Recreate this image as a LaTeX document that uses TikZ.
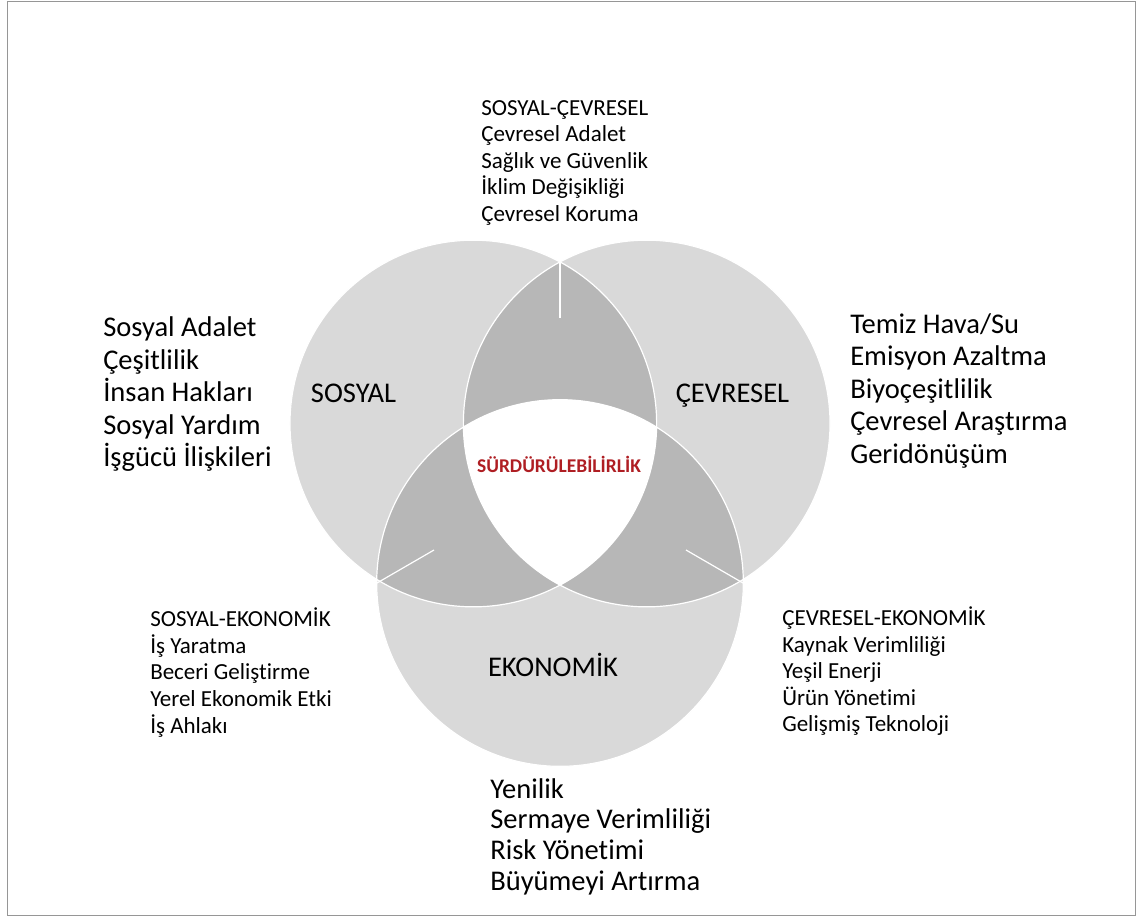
\documentclass[tikz,border=0pt]{standalone}
\usepackage{fontspec}
\setmainfont{Carlito}[Ligatures=NoCommon]
\usepackage{tikz}
\definecolor{vennlight}{RGB}{217,217,217}
\definecolor{venndark}{RGB}{183,183,183}
\definecolor{vennred}{RGB}{175,30,35}
\definecolor{framegray}{RGB}{150,150,150}
\newcommand{\rad}{137.5pt}

\begin{document}
\begin{tikzpicture}[x=0.75pt,y=-0.75pt,
	big/.style={font=\fontsize{21.4pt}{24.4pt}\selectfont, inner sep=0pt, anchor=base west, align=left},
	small/.style={font=\fontsize{17.25pt}{19.9pt}\selectfont, inner sep=0pt, anchor=base west, align=left},
	lbl/.style={font=\fontsize{21.4pt}{24pt}\selectfont, inner sep=0pt, anchor=base}]
	\useasboundingbox (0,0) rectangle (1137,918);
	\draw[framegray, line width=1.2pt] (7.5,1.5) rectangle (1135.5,915.5);
	% circles
	\coordinate (soc) at (473.3,423.5);
	\coordinate (env) at (646.7,423.5);
	\coordinate (eco) at (560,583);
	\fill[vennlight] (soc) circle[radius=\rad] (env) circle[radius=\rad] (eco) circle[radius=\rad];
	\begin{scope}
		\clip (soc) circle[radius=\rad];
		\fill[venndark] (env) circle[radius=\rad] (eco) circle[radius=\rad];
	\end{scope}
	\begin{scope}
		\clip (env) circle[radius=\rad];
		\fill[venndark] (eco) circle[radius=\rad];
	\end{scope}
	\begin{scope}
		\clip (soc) circle[radius=\rad];
		\clip (env) circle[radius=\rad];
		\fill[white] (eco) circle[radius=\rad];
	\end{scope}
	\draw[white, line width=0.9pt] (soc) circle[radius=\rad] (env) circle[radius=\rad] (eco) circle[radius=\rad];
	% short white ticks
	\coordinate (t1) at (560,262);
	\coordinate (t2) at (560,318);
	\coordinate (l1) at (377,583);
	\coordinate (l2) at (434,550);
	\coordinate (r1) at (743,583);
	\coordinate (r2) at (686,550);
	\draw[white, line width=0.9pt] (t1) -- (t2);
	\draw[white, line width=0.9pt] (l1) -- (l2);
	\draw[white, line width=0.9pt] (r1) -- (r2);
	% labels
	\node[lbl] (n1) at (353.5,402) {SOSYAL};
	\node[lbl] (n2) at (732.5,402) {ÇEVRESEL};
	\node[lbl] (n3) at (553,676) {EKONOMİK};
	\node[inner sep=0pt, anchor=base, text=vennred, font=\fontsize{14.6pt}{16pt}\selectfont\bfseries] (n4) at (559,472) {SÜRDÜRÜLEBİLİRLİK};
	% lists (anchored at the last line)
	\node[small] (v1) at (481,221.5) {SOSYAL-ÇEVRESEL\\Çevresel Adalet\\Sağlık ve Güvenlik\\İklim Değişikliği\\Çevresel Koruma};
	\node[big] (v2) at (103,466.6) {Sosyal Adalet\\Çeşitlilik\\İnsan Hakları\\Sosyal Yardım\\İşgücü İlişkileri};
	\node[big] (v3) at (850,463.2) {Temiz Hava/Su\\Emisyon Azaltma\\Biyoçeşitlilik\\Çevresel Araştırma\\Geridönüşüm};
	\node[small] (v4) at (150,733) {SOSYAL-EKONOMİK\\İş Yaratma\\Beceri Geliştirme\\Yerel Ekonomik Etki\\İş Ahlakı};
	\node[small] (v5) at (782,731.7) {ÇEVRESEL-EKONOMİK\\Kaynak Verimliliği\\Yeşil Enerji\\Ürün Yönetimi\\Gelişmiş Teknoloji};
	\node[big, font=\fontsize{21.4pt}{22.9pt}\selectfont] (v6) at (490,890) {Yenilik\\Sermaye Verimliliği\\Risk Yönetimi\\Büyümeyi Artırma};
\end{tikzpicture}
\end{document}
